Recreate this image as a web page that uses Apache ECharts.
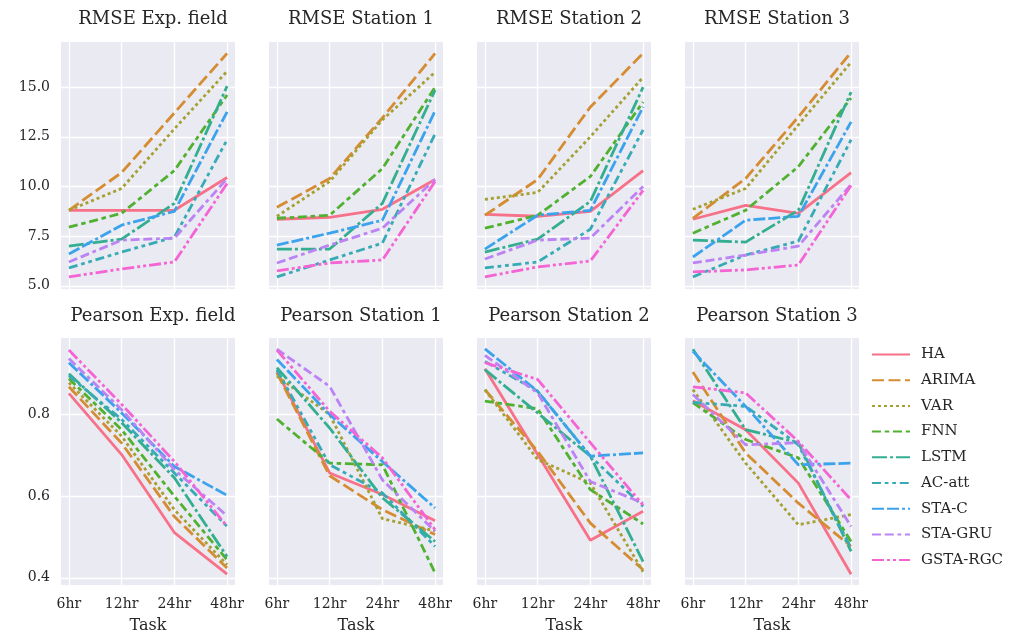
<!DOCTYPE html>
<html>
<head>
<meta charset="utf-8">
<script src="https://cdn.jsdelivr.net/npm/echarts@6/dist/echarts.min.js"></script>
<style>
  html, body { margin: 0; padding: 0; background: #fff; }
  #main { width: 1021px; height: 639px; }
</style>
</head>
<body>
<div id="main"></div>
<script>
// tasks on the x axis
const tasks = ["6hr", "12hr", "24hr", "48hr"];
const methods = ["HA", "ARIMA", "VAR", "FNN", "LSTM", "AC-att", "STA-C", "STA-GRU", "GSTA-RGC"];

// one row per method (same order as methods), one value per task
const rmseExpField = [
  [8.8, 8.8, 8.8, 10.45],
  [8.8, 10.7, 13.7, 16.7],
  [8.8, 9.9, 12.9, 15.8],
  [7.95, 8.65, 10.8, 14.6],
  [7.0, 7.35, 9.15, 15.05],
  [5.9, 6.7, 7.45, 12.35],
  [6.6, 8.05, 8.75, 13.75],
  [6.2, 7.3, 7.4, 10.4],
  [5.45, 5.85, 6.2, 10.15]
];
const rmseStation1 = [
  [8.35, 8.45, 8.85, 10.35],
  [8.95, 10.4, 13.45, 16.7],
  [8.5, 10.25, 13.35, 15.75],
  [8.4, 8.55, 10.9, 15.0],
  [6.85, 6.85, 9.15, 14.85],
  [5.45, 6.3, 7.15, 12.65],
  [7.05, 7.65, 8.3, 13.8],
  [6.15, 7.05, 7.9, 10.35],
  [5.75, 6.15, 6.3, 10.25]
];
const rmseStation2 = [
  [8.6, 8.5, 8.75, 10.8],
  [8.55, 10.35, 14.0, 16.7],
  [9.35, 9.7, 12.5, 15.5],
  [7.9, 8.55, 10.5, 14.25],
  [6.7, 7.35, 9.25, 15.0],
  [5.9, 6.2, 7.85, 12.85],
  [6.85, 8.55, 8.8, 14.0],
  [6.35, 7.3, 7.4, 10.0],
  [5.45, 5.95, 6.25, 9.8]
];
const rmseStation3 = [
  [8.35, 9.05, 8.65, 10.7],
  [8.4, 10.4, 13.5, 16.75],
  [8.85, 9.9, 13.1, 16.25],
  [7.65, 8.8, 11.0, 14.45],
  [7.3, 7.2, 8.8, 14.75],
  [5.45, 6.55, 7.25, 12.35],
  [6.45, 8.3, 8.5, 13.25],
  [6.15, 6.55, 7.0, 10.1],
  [5.7, 5.8, 6.05, 10.05]
];

const pearsonExpField = [
  [0.852, 0.702, 0.511, 0.409],
  [0.868, 0.73, 0.55, 0.424],
  [0.878, 0.747, 0.567, 0.432],
  [0.888, 0.763, 0.6, 0.444],
  [0.9, 0.78, 0.645, 0.452],
  [0.895, 0.788, 0.657, 0.526],
  [0.927, 0.804, 0.673, 0.602],
  [0.937, 0.812, 0.665, 0.552],
  [0.958, 0.825, 0.685, 0.526]
];
const pearsonStation1 = [
  [0.906, 0.657, 0.604, 0.54],
  [0.902, 0.65, 0.567, 0.506],
  [0.894, 0.8, 0.545, 0.515],
  [0.789, 0.681, 0.677, 0.412],
  [0.915, 0.767, 0.596, 0.489],
  [0.91, 0.677, 0.608, 0.477],
  [0.935, 0.8, 0.685, 0.571],
  [0.96, 0.869, 0.64, 0.514],
  [0.958, 0.808, 0.694, 0.518]
];
const pearsonStation2 = [
  [0.912, 0.702, 0.492, 0.563],
  [0.861, 0.71, 0.534, 0.42],
  [0.861, 0.69, 0.632, 0.415],
  [0.833, 0.814, 0.616, 0.532],
  [0.91, 0.804, 0.698, 0.44],
  [0.93, 0.857, 0.698, 0.575],
  [0.961, 0.857, 0.698, 0.706],
  [0.945, 0.853, 0.636, 0.583],
  [0.927, 0.886, 0.731, 0.578]
];
const pearsonStation3 = [
  [0.834, 0.763, 0.632, 0.409],
  [0.904, 0.706, 0.583, 0.477],
  [0.861, 0.681, 0.53, 0.555],
  [0.829, 0.739, 0.694, 0.489],
  [0.96, 0.763, 0.731, 0.465],
  [0.83, 0.82, 0.726, 0.473],
  [0.955, 0.82, 0.677, 0.681],
  [0.849, 0.726, 0.731, 0.526],
  [0.868, 0.853, 0.734, 0.591]
];

const panelTitles = [
  "RMSE Exp. field", "RMSE Station 1", "RMSE Station 2", "RMSE Station 3",
  "Pearson Exp. field", "Pearson Station 1", "Pearson Station 2", "Pearson Station 3"
];
const panels = [
  rmseExpField, rmseStation1, rmseStation2, rmseStation3,
  pearsonExpField, pearsonStation1, pearsonStation2, pearsonStation3
];
const rmseTicks = [5, 7.5, 10, 12.5, 15];
const pearsonTicks = [0.4, 0.6, 0.8];

// husl palette + seaborn dash list (scaled like matplotlib does)
const colors = ["#f77189", "#d58c32", "#a4a031", "#50b131", "#34ae91", "#37abb5", "#3ba3ec", "#bb83f4", "#f564d4"];
const lw = 2.8;
const dashScale = 3;
const dashes = [
  "solid",
  [4, 1.5], [1, 1], [3, 1.25, 1.5, 1.25], [5, 1, 1, 1],
  [3, 1.25, 1.25, 1.25, 1.25, 1.25], [4, 1, 4, 1, 1, 1],
  [3, 1.25, 3, 1.25, 1.25, 1.25], [4, 1, 1, 1, 1, 1]
].map(d => Array.isArray(d) ? d.map(v => v * dashScale) : d);

const font = "DejaVu Serif";
const textColor = "#262626";

var chartDom = document.getElementById("main");
var myChart = echarts.init(chartDom);

var grids = [], xAxes = [], yAxes = [], titles = [], series = [];
for (let p = 0; p < 8; p++) {
  const row = Math.floor(p / 4), col = p % 4;
  const left = 61 + 208 * col;
  const top = row === 0 ? 42 : 338;
  grids.push({
    left: left, top: top, width: 174, height: 247,
    show: true, backgroundColor: "#eaeaf2", borderWidth: 0
  });
  titles.push({
    text: panelTitles[p],
    left: left + 87, top: row === 0 ? 5 : 302,
    textAlign: "center",
    textStyle: { fontFamily: font, fontSize: 18, fontWeight: "normal", color: textColor }
  });
  xAxes.push({
    gridIndex: p, type: "value", min: -0.15, max: 3.15,
    axisLine: { show: false }, axisTick: { show: false, customValues: [0, 1, 2, 3] },
    splitLine: { show: true, lineStyle: { color: "#fff", width: 1.3 } },
    axisLabel: {
      show: row === 1, customValues: [0, 1, 2, 3], margin: 12,
      formatter: v => tasks[Math.round(v)],
      fontFamily: font, fontSize: 14, color: textColor
    },
    name: row === 1 ? "Task" : "", nameLocation: "middle", nameGap: 33,
    nameTextStyle: { fontFamily: font, fontSize: 16, color: textColor }
  });
  const ticks = row === 0 ? rmseTicks : pearsonTicks;
  yAxes.push({
    gridIndex: p, type: "value",
    min: row === 0 ? 4.84 : 0.3825, max: row === 0 ? 17.27 : 0.9875,
    axisLine: { show: false }, axisTick: { show: false, customValues: ticks },
    splitLine: { show: true, lineStyle: { color: "#fff", width: 1.3 } },
    axisLabel: {
      show: col === 0, customValues: ticks, margin: 11,
      formatter: v => v.toFixed(1),
      fontFamily: font, fontSize: 14, color: textColor
    }
  });
  panels[p].forEach((vals, m) => {
    series.push({
      name: methods[m], type: "line", xAxisIndex: p, yAxisIndex: p,
      data: vals.map((v, i) => [i, v]),
      symbol: "none", silent: true, animation: false,
      color: colors[m],
      lineStyle: { color: colors[m], width: lw, type: dashes[m] }
    });
  });
}

var option = {
  backgroundColor: "#fff",
  animation: false,
  title: titles,
  grid: grids,
  xAxis: xAxes,
  yAxis: yAxes,
  legend: {
    data: methods, orient: "vertical", left: 866, top: 342,
    itemWidth: 38, itemHeight: 14, itemGap: 10.7,
    itemStyle: { opacity: 0 },
    textStyle: { fontFamily: font, fontSize: 15, color: textColor, padding: [0, 0, 0, 6] }
  },
  series: series
};

option && myChart.setOption(option);
</script>
</body>
</html>
